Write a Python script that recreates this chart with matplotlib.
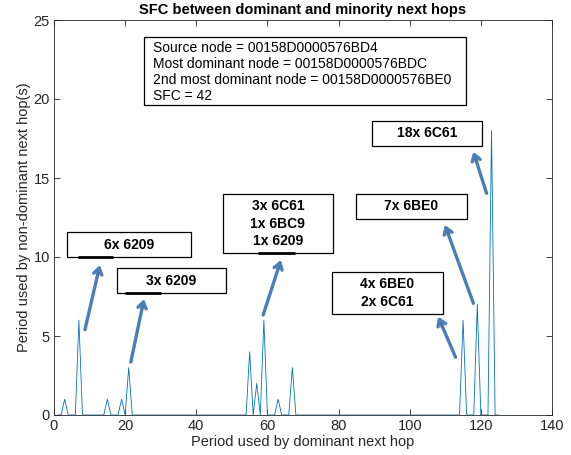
import numpy as np
import matplotlib
matplotlib.use("Agg")
from matplotlib import pyplot as plt
from matplotlib.patches import Rectangle
from matplotlib import patheffects as pe

plt.rcParams["font.family"] = ["Liberation Sans", "DejaVu Sans"]

# ------------------------------------------------------------------------------
#  Data
# ------------------------------------------------------------------------------

# Periods used by the dominant next hop where a minority next hop showed up
spike_periods = [3, 7, 15, 19, 21, 55, 57, 59, 63, 67, 115, 119, 123]
spike_counts = [1, 6, 1, 1, 3, 4, 2, 6, 1, 3, 6, 7, 18]
period_first, period_last = 1, 125

periods = np.arange(period_first, period_last + 1)
counts = np.zeros_like(periods)
for p, c in zip(spike_periods, spike_counts):
    counts[p - period_first] = c

info_lines = [
    "Source node = 00158D0000576BD4",
    "Most dominant node = 00158D0000576BDC",
    "2nd most dominant node = 00158D0000576BE0",
    "SFC = 42",
]

# Label boxes: text, (x0, y0, x1, y1) box in data units
box_texts = ["6x 6209", "3x 6209", "3x 6C61\n1x 6BC9\n1x 6209",
             "18x 6C61", "7x 6BE0", "4x 6BE0\n2x 6C61"]
box_extents = [
    (3.65, 10.0, 38.5, 11.58),
    (17.7, 7.72, 48.3, 9.30),
    (47.5, 10.25, 78.4, 13.99),
    (89.4, 17.03, 120.3, 18.61),
    (84.9, 12.41, 116.1, 13.99),
    (78.1, 6.39, 109.3, 9.05),
]
# Arrows: tail -> tip
arrow_tails = [(8.7, 5.4), (21.6, 3.35), (58.8, 6.33), (121.6, 14.03), (117.9, 7.07), (112.9, 3.65)]
arrow_tips = [(12.9, 9.49), (25.3, 7.34), (63.8, 9.81), (117.9, 16.66), (109.9, 12.03), (108.0, 6.22)]
# Short dark marks sitting on the lower edge of some boxes
underlines = [((6.75, 16.6), 10.0), ((20.0, 30.1), 7.72), ((57.3, 67.7), 10.25)]

# ------------------------------------------------------------------------------
#  Plot
# ------------------------------------------------------------------------------

fig = plt.figure(figsize=(5.71, 4.55), dpi=100)
ax = fig.add_axes([54 / 571, 40 / 455, 498 / 571, 395 / 455])

ax.plot(periods, counts, color="#0072BD", lw=0.6)

ax.set_xlim(0, 140)
ax.set_ylim(0, 25)
ax.set_xticks(np.arange(0, 141, 20))
ax.set_yticks(np.arange(0, 26, 5))
ax.tick_params(direction="in", top=True, right=True, length=4, width=0.6,
               labelsize=10.5, colors="#262626", pad=3)
for s in ax.spines.values():
    s.set_color("#262626")
    s.set_linewidth(0.6)

ax.set_title("SFC between dominant and minority next hops", fontsize=10.5,
             fontweight="bold", pad=4)
ax.set_xlabel("Period used by dominant next hop", fontsize=10.5, color="#262626",
              labelpad=1)
ax.set_ylabel("Period used by non-dominant next hop(s)", fontsize=10.5,
              color="#262626", labelpad=2)

# Info box
ax.add_patch(Rectangle((25.2, 19.62), 115.8 - 25.2, 23.92 - 19.62, fill=True,
                       facecolor="white", edgecolor="black", lw=0.9, zorder=3))
ax.text(27.9, 21.72, "\n".join(info_lines), fontsize=10, ha="left", va="center",
        linespacing=1.2, zorder=4)

# Label boxes
for txt, (x0, y0, x1, y1) in zip(box_texts, box_extents):
    ax.add_patch(Rectangle((x0, y0), x1 - x0, y1 - y0, facecolor="white",
                           edgecolor="black", lw=0.9, zorder=3))
    ax.text((x0 + x1) / 2, (y0 + y1) / 2, txt, fontsize=10, fontweight="bold",
            ha="center", va="center", linespacing=1.3, zorder=4)

for (xa, xb), y in underlines:
    ax.plot([xa, xb], [y, y], color="black", lw=2, solid_capstyle="butt", zorder=5)

# Arrows
for tail, tip in zip(arrow_tails, arrow_tips):
    ax.annotate("", xy=tip, xytext=tail, zorder=6,
                arrowprops=dict(arrowstyle="->,head_length=0.45,head_width=0.3",
                                color="#4a7ebb", lw=2.4,
                                mutation_scale=10, shrinkA=0, shrinkB=0,
                                path_effects=[pe.SimplePatchShadow(offset=(1, -1), alpha=0.25),
                                              pe.Normal()]))

fig.savefig("out.png", dpi=100)
